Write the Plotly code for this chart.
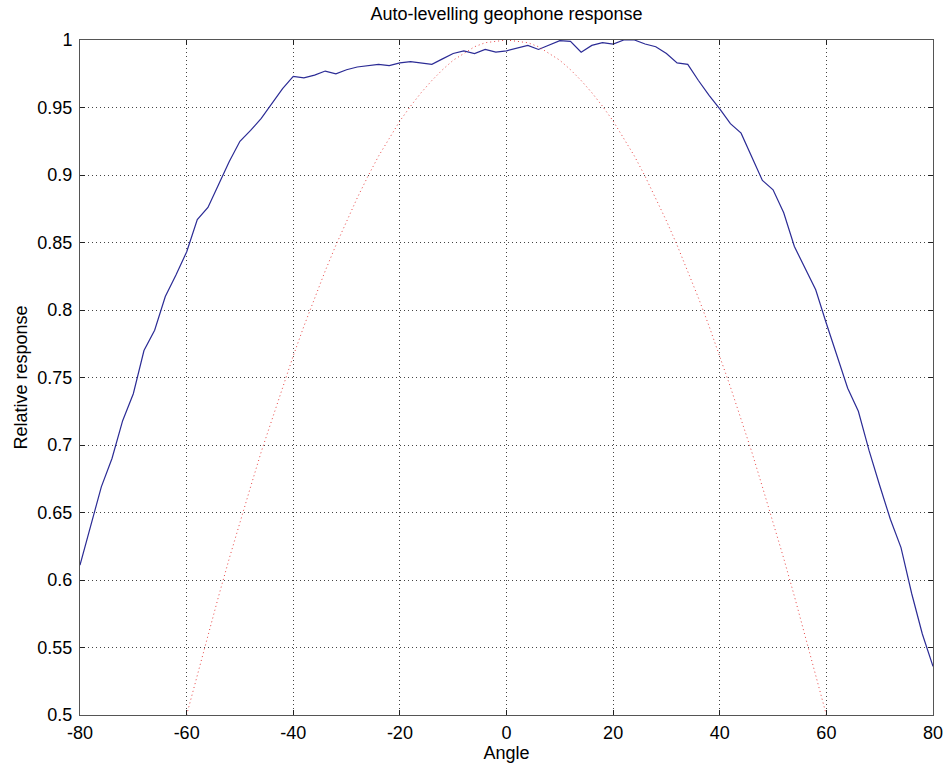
import plotly.graph_objects as go

angles = [-80, -78, -76, -74, -72, -70, -68, -66, -64, -62, -60, -58, -56, -54, -52, -50,
          -48, -46, -44, -42, -40, -38, -36, -34, -32, -30, -28, -26, -24, -22, -20, -18,
          -16, -14, -12, -10, -8, -6, -4, -2, 0, 2, 4, 6, 8, 10, 12, 14, 16, 18, 20, 22,
          24, 26, 28, 30, 32, 34, 36, 38, 40, 42, 44, 46, 48, 50, 52, 54, 56, 58, 60, 62,
          64, 66, 68, 70, 72, 74, 76, 78, 80]
measured = [0.611, 0.640, 0.669, 0.690, 0.718, 0.738, 0.770, 0.785, 0.810, 0.826, 0.843,
            0.867, 0.876, 0.893, 0.910, 0.925, 0.933, 0.942, 0.953, 0.964, 0.973, 0.972,
            0.974, 0.977, 0.975, 0.978, 0.980, 0.981, 0.982, 0.981, 0.983, 0.984, 0.983,
            0.982, 0.986, 0.990, 0.992, 0.990, 0.993, 0.991, 0.992, 0.994, 0.996, 0.993,
            0.996, 0.9995, 0.999, 0.991, 0.996, 0.998, 0.997, 1.000, 1.000, 0.997, 0.995,
            0.990, 0.983, 0.982, 0.970, 0.959, 0.949, 0.938, 0.931, 0.914, 0.896, 0.889,
            0.872, 0.847, 0.831, 0.815, 0.790, 0.766, 0.742, 0.725, 0.696, 0.670, 0.645,
            0.624, 0.590, 0.560, 0.536]

ref_angles = [-60, -58, -56, -54, -52, -50, -48, -46, -44, -42, -40, -38, -36, -34, -32,
              -30, -28, -26, -24, -22, -20, -18, -16, -14, -12, -10, -8, -6, -4, -2, 0,
              2, 4, 6, 8, 10, 12, 14, 16, 18, 20, 22, 24, 26, 28, 30, 32, 34, 36, 38, 40,
              42, 44, 46, 48, 50, 52, 54, 56, 58, 60]
ref_half = [1.000, 0.999, 0.998, 0.995, 0.990, 0.985, 0.978, 0.970, 0.961, 0.951, 0.940,
            0.927, 0.914, 0.899, 0.883, 0.866, 0.848, 0.829, 0.809, 0.788, 0.766, 0.743,
            0.719, 0.695, 0.669, 0.643, 0.616, 0.588, 0.559, 0.530, 0.500]
reference = ref_half[::-1] + ref_half[1:]

x_ticks = [-80, -60, -40, -20, 0, 20, 40, 60, 80]
x_tick_labels = ["-80", "-60", "-40", "-20", "0", "20", "40", "60", "80"]
y_ticks = [0.5, 0.55, 0.6, 0.65, 0.7, 0.75, 0.8, 0.85, 0.9, 0.95, 1.0]
y_tick_labels = ["0.5", "0.55", "0.6", "0.65", "0.7", "0.75", "0.8", "0.85", "0.9", "0.95", "1"]

fig = go.Figure()
fig.add_trace(go.Scatter(x=angles, y=measured, mode="lines",
                         line=dict(color="#2b2b95", width=1.2), showlegend=False))
fig.add_trace(go.Scatter(x=ref_angles, y=reference, mode="lines",
                         line=dict(color="#e84545", width=1, dash="1px,3px"), showlegend=False))

font = "Liberation Sans, Arial, sans-serif"
axis_common = dict(showline=True, linecolor="#555", linewidth=1, mirror="ticks",
                   ticks="inside", ticklen=5, tickcolor="#222", automargin=False,
                   showgrid=True, gridcolor="#444", griddash="1px,3px", gridwidth=1,
                   zeroline=False, tickfont=dict(family=font, size=18, color="black"))

fig.update_layout(
    width=948, height=767,
    margin=dict(l=80, r=15, t=40, b=52),
    paper_bgcolor="white", plot_bgcolor="white",
    title=dict(text="Auto-levelling geophone response", x=0.5, xref="paper", xanchor="center",
               y=1 - 14 / 767, yref="container", yanchor="middle",
               font=dict(family=font, size=18, color="black")),
    xaxis=dict(range=[-80, 80], tickvals=x_ticks, ticktext=x_tick_labels,
               ticklabelstandoff=1,
               title=dict(text="Angle", standoff=4,
                          font=dict(family=font, size=18, color="black")),
               **axis_common),
    yaxis=dict(range=[0.5, 1.0], tickvals=y_ticks, ticktext=y_tick_labels,
               ticklabelstandoff=3,
               title=dict(text="Relative response", standoff=5,
                          font=dict(family=font, size=18, color="black")),
               **axis_common),
)

fig.write_html("out.html", config={"displayModeBar": False},
               post_script="document.body.style.margin='0';document.body.style.overflow='hidden';")
